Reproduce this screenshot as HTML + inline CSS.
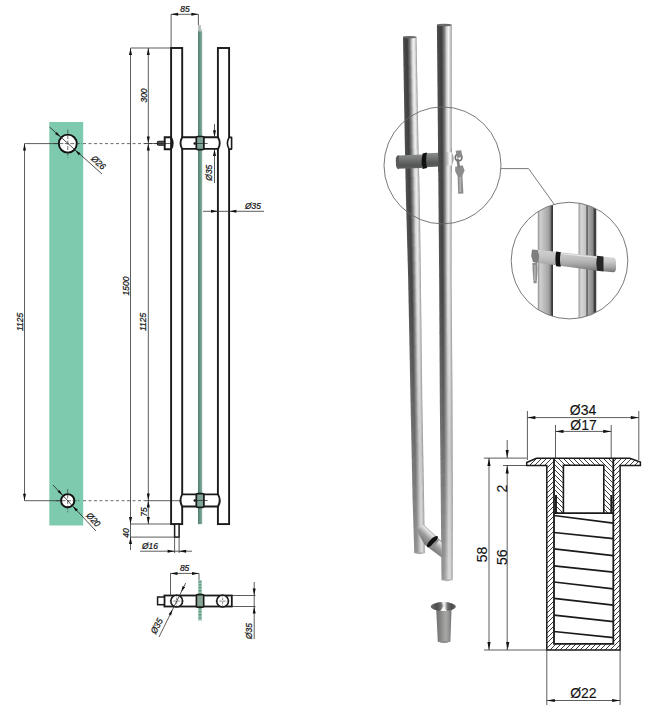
<!DOCTYPE html>
<html><head><meta charset="utf-8"><style>
html,body{margin:0;padding:0;background:#fff;width:649px;height:724px;overflow:hidden}
svg{display:block}
text{font-family:"Liberation Sans",sans-serif}
</style></head><body>
<svg width="649" height="724" viewBox="0 0 649 724">
<rect width="649" height="724" fill="#fff"/>
<rect x="49.3" y="122" width="33.9" height="403.5" fill="#7ecaae"/>
<line x1="83.00" y1="143.60" x2="157.00" y2="143.60" stroke="#444" stroke-width="0.8" stroke-dasharray="3,2.5"/>
<line x1="83.00" y1="500.70" x2="145.00" y2="500.70" stroke="#444" stroke-width="0.8" stroke-dasharray="3,2.5"/>
<line x1="145.00" y1="500.70" x2="182.00" y2="500.70" stroke="#333" stroke-width="0.8" />
<line x1="24.50" y1="143.60" x2="24.50" y2="500.70" stroke="#333" stroke-width="0.8" />
<line x1="24.50" y1="143.60" x2="67.80" y2="143.60" stroke="#333" stroke-width="0.8" />
<line x1="24.50" y1="500.70" x2="67.70" y2="500.70" stroke="#333" stroke-width="0.8" />
<polygon points="24.50,143.60 26.00,150.60 23.00,150.60" fill="#111"/>
<polygon points="24.50,500.70 23.00,493.70 26.00,493.70" fill="#111"/>
<text transform="translate(19.80,322.00) rotate(-90) scale(0.94,1)" x="0" y="3.24" text-anchor="middle" font-size="9.0" fill="#111" stroke="#111" stroke-width="0.22" style="font-style:italic;">1125</text>
<circle cx="67.8" cy="143.6" r="9.0" fill="#fff" stroke="#111" stroke-width="1.9"/>
<line x1="67.80" y1="129.60" x2="67.80" y2="157.60" stroke="#333" stroke-width="0.7" stroke-dasharray="4,1.5"/>
<line x1="53.80" y1="143.60" x2="81.80" y2="143.60" stroke="#333" stroke-width="0.7" stroke-dasharray="4,1.5"/>
<line x1="49.50" y1="127.00" x2="102.00" y2="174.00" stroke="#222" stroke-width="0.8" />
<polygon points="60.42,137.00 55.02,134.04 56.89,131.95" fill="#111"/>
<polygon points="75.18,150.20 80.58,153.16 78.71,155.25" fill="#111"/>
<text transform="translate(98.50,162.50) rotate(42) scale(0.94,1)" x="0" y="3.24" text-anchor="middle" font-size="9.0" fill="#111" stroke="#111" stroke-width="0.22" style="font-style:italic;">&#216;26</text>
<circle cx="67.7" cy="500.7" r="6.6" fill="#fff" stroke="#111" stroke-width="1.9"/>
<line x1="67.70" y1="489.10" x2="67.70" y2="512.30" stroke="#333" stroke-width="0.7" stroke-dasharray="4,1.5"/>
<line x1="56.10" y1="500.70" x2="79.30" y2="500.70" stroke="#333" stroke-width="0.7" stroke-dasharray="4,1.5"/>
<line x1="53.00" y1="485.00" x2="96.00" y2="531.00" stroke="#222" stroke-width="0.8" />
<polygon points="62.58,495.22 57.46,491.79 59.50,489.88" fill="#111"/>
<polygon points="72.82,506.18 77.94,509.61 75.90,511.52" fill="#111"/>
<text transform="translate(93.50,519.50) rotate(47) scale(0.94,1)" x="0" y="3.24" text-anchor="middle" font-size="9.0" fill="#111" stroke="#111" stroke-width="0.22" style="font-style:italic;">&#216;20</text>
<line x1="130.50" y1="48.00" x2="130.50" y2="550.00" stroke="#333" stroke-width="0.8" />
<line x1="148.30" y1="48.00" x2="148.30" y2="524.00" stroke="#333" stroke-width="0.8" />
<line x1="130.50" y1="48.00" x2="171.00" y2="48.00" stroke="#333" stroke-width="0.8" />
<line x1="130.50" y1="524.00" x2="171.00" y2="524.00" stroke="#333" stroke-width="0.8" />
<line x1="130.50" y1="537.10" x2="174.50" y2="537.10" stroke="#333" stroke-width="0.8" />
<polygon points="130.50,48.00 132.00,55.00 129.00,55.00" fill="#111"/>
<polygon points="130.50,524.00 129.00,517.00 132.00,517.00" fill="#111"/>
<polygon points="130.50,537.10 132.00,544.10 129.00,544.10" fill="#111"/>
<polygon points="148.30,48.00 149.80,55.00 146.80,55.00" fill="#111"/>
<polygon points="148.30,143.50 146.80,136.50 149.80,136.50" fill="#111"/>
<polygon points="148.30,143.50 149.80,150.50 146.80,150.50" fill="#111"/>
<polygon points="148.30,500.60 146.80,493.60 149.80,493.60" fill="#111"/>
<polygon points="148.30,500.60 149.80,507.60 146.80,507.60" fill="#111"/>
<polygon points="148.30,524.00 146.80,517.00 149.80,517.00" fill="#111"/>
<text transform="translate(143.50,95.50) rotate(-90) scale(0.94,1)" x="0" y="3.24" text-anchor="middle" font-size="9.0" fill="#111" stroke="#111" stroke-width="0.22" style="font-style:italic;">300</text>
<text transform="translate(125.90,286.00) rotate(-90) scale(0.94,1)" x="0" y="3.24" text-anchor="middle" font-size="9.0" fill="#111" stroke="#111" stroke-width="0.22" style="font-style:italic;">1500</text>
<text transform="translate(143.20,322.00) rotate(-90) scale(0.94,1)" x="0" y="3.24" text-anchor="middle" font-size="9.0" fill="#111" stroke="#111" stroke-width="0.22" style="font-style:italic;">1125</text>
<text transform="translate(143.50,512.00) rotate(-90) scale(0.94,1)" x="0" y="3.24" text-anchor="middle" font-size="9.0" fill="#111" stroke="#111" stroke-width="0.22" style="font-style:italic;">75</text>
<text transform="translate(126.20,533.00) rotate(-90) scale(0.94,1)" x="0" y="3.24" text-anchor="middle" font-size="9.0" fill="#111" stroke="#111" stroke-width="0.22" style="font-style:italic;">40</text>
<line x1="171.10" y1="14.30" x2="171.10" y2="48.00" stroke="#333" stroke-width="0.8" />
<line x1="198.40" y1="14.30" x2="198.40" y2="25.00" stroke="#333" stroke-width="0.8" />
<line x1="171.10" y1="14.30" x2="198.40" y2="14.30" stroke="#333" stroke-width="0.8" />
<polygon points="171.10,14.30 178.10,12.80 178.10,15.80" fill="#111"/>
<polygon points="198.40,14.30 191.40,15.80 191.40,12.80" fill="#111"/>
<text transform="translate(185.00,9.00) rotate(0) scale(0.94,1)" x="0" y="3.24" text-anchor="middle" font-size="9.0" fill="#111" stroke="#111" stroke-width="0.22" style="font-style:italic;">85</text>
<rect x="171.1" y="48" width="11.1" height="476.1" fill="none" stroke="#1a1a1a" stroke-width="1.9"/>
<rect x="217.9" y="48" width="11.2" height="476.1" fill="none" stroke="#1a1a1a" stroke-width="1.9"/>
<rect x="198.1" y="25" width="2.8" height="7" fill="#b4bcb8"/>
<rect x="200.9" y="29" width="1.2" height="3" fill="#c8d0cc"/>
<rect x="198.1" y="31.5" width="4" height="492.6" fill="#6c9a89"/>
<rect x="198.1" y="31.5" width="1.2" height="492.6" fill="#4f7f6e"/>
<rect x="201.3" y="31.5" width="0.8" height="492.6" fill="#88b2a2"/>
<rect x="180" y="137.3" width="40" height="11.599999999999994" fill="#fff"/>
<path d="M182.2,137.3 L218,137.3 Q221.5,143.5 218,148.9 L182.2,148.9 Q178.8,143.5 182.2,137.3 Z" fill="#fff" stroke="#1a1a1a" stroke-width="1.9"/>
<rect x="198.1" y="137.3" width="4" height="11.599999999999994" fill="#6c9a89"/>
<rect x="196.3" y="136.5" width="7.6" height="13.199999999999994" rx="1.5" fill="#7ea595" stroke="#1a1a1a" stroke-width="1.7"/>
<circle cx="194.8" cy="143.5" r="1.3" fill="#111"/>
<line x1="194.80" y1="143.50" x2="207.70" y2="143.50" stroke="#222" stroke-width="0.7" />
<rect x="180" y="494.4" width="40" height="12.100000000000023" fill="#fff"/>
<path d="M182.2,494.4 L218,494.4 Q221.5,500.5 218,506.5 L182.2,506.5 Q178.8,500.5 182.2,494.4 Z" fill="#fff" stroke="#1a1a1a" stroke-width="1.9"/>
<rect x="198.1" y="494.4" width="4" height="12.100000000000023" fill="#6c9a89"/>
<rect x="196.3" y="493.59999999999997" width="7.6" height="13.700000000000022" rx="1.5" fill="#7ea595" stroke="#1a1a1a" stroke-width="1.7"/>
<circle cx="194.8" cy="500.5" r="1.3" fill="#111"/>
<line x1="194.80" y1="500.50" x2="207.70" y2="500.50" stroke="#222" stroke-width="0.7" />
<rect x="227.8" y="138.2" width="2.6" height="10.2" fill="#fff"/>
<path d="M229.1,137.4 L231.6,137.4 L231.6,149.1 L229.1,149.1 Q225.6,143.3 229.1,137.4 Z" fill="#fff" stroke="#1a1a1a" stroke-width="1.6" stroke-linejoin="round"/>
<path d="M171,137.3 L164.7,137.3 L164.7,149.3 L171,149.3 Q174.5,143.5 171,137.3 Z" fill="none" stroke="#1a1a1a" stroke-width="1.9"/>
<path d="M164.7,141.2 L158.8,141.2 Q157.3,141.2 157.3,142.7 L157.3,143.8 Q157.3,145.3 158.8,145.3 L164.7,145.3 Z" fill="#555" stroke="#1a1a1a" stroke-width="1.1"/>
<line x1="144.60" y1="143.50" x2="171.00" y2="143.50" stroke="#222" stroke-width="0.7" />
<rect x="174.6" y="524.1" width="4.5" height="13" fill="#fff" stroke="#1a1a1a" stroke-width="1.5"/>
<line x1="214.50" y1="124.00" x2="214.50" y2="137.30" stroke="#333" stroke-width="0.8" />
<line x1="214.50" y1="148.90" x2="214.50" y2="183.00" stroke="#333" stroke-width="0.8" />
<polygon points="214.50,137.30 213.00,130.30 216.00,130.30" fill="#111"/>
<polygon points="214.50,148.90 216.00,155.90 213.00,155.90" fill="#111"/>
<text transform="translate(209.00,172.70) rotate(-90) scale(0.94,1)" x="0" y="3.24" text-anchor="middle" font-size="9.0" fill="#111" stroke="#111" stroke-width="0.22" style="font-style:italic;">&#216;35</text>
<line x1="203.00" y1="211.30" x2="264.00" y2="211.30" stroke="#333" stroke-width="0.8" />
<polygon points="218.00,211.30 211.00,212.80 211.00,209.80" fill="#111"/>
<polygon points="229.40,211.30 236.40,209.80 236.40,212.80" fill="#111"/>
<text transform="translate(253.00,206.00) rotate(0) scale(0.94,1)" x="0" y="3.24" text-anchor="middle" font-size="9.0" fill="#111" stroke="#111" stroke-width="0.22" style="font-style:italic;">&#216;35</text>
<line x1="174.60" y1="537.00" x2="174.60" y2="553.00" stroke="#333" stroke-width="0.8" />
<line x1="179.10" y1="537.00" x2="179.10" y2="553.00" stroke="#333" stroke-width="0.8" />
<line x1="140.00" y1="551.20" x2="192.00" y2="551.20" stroke="#333" stroke-width="0.8" />
<polygon points="174.60,551.20 167.60,552.70 167.60,549.70" fill="#111"/>
<polygon points="179.10,551.20 186.10,549.70 186.10,552.70" fill="#111"/>
<text transform="translate(150.00,545.30) rotate(0) scale(0.94,1)" x="0" y="3.24" text-anchor="middle" font-size="9.0" fill="#111" stroke="#111" stroke-width="0.22" style="font-style:italic;">&#216;16</text>
<rect x="198.1" y="580.2" width="3.8" height="40.4" fill="#9ac6b2"/>
<rect x="199" y="581" width="2" height="1.5" fill="#5f927d"/>
<rect x="199" y="584" width="2" height="1.5" fill="#5f927d"/>
<rect x="199" y="587" width="2" height="1.5" fill="#5f927d"/>
<rect x="199" y="590" width="2" height="1.5" fill="#5f927d"/>
<rect x="199" y="593" width="2" height="1.5" fill="#5f927d"/>
<rect x="199" y="596" width="2" height="1.5" fill="#5f927d"/>
<rect x="199" y="599" width="2" height="1.5" fill="#5f927d"/>
<rect x="199" y="602" width="2" height="1.5" fill="#5f927d"/>
<rect x="199" y="605" width="2" height="1.5" fill="#5f927d"/>
<rect x="199" y="608" width="2" height="1.5" fill="#5f927d"/>
<rect x="199" y="611" width="2" height="1.5" fill="#5f927d"/>
<rect x="199" y="614" width="2" height="1.5" fill="#5f927d"/>
<rect x="199" y="617" width="2" height="1.5" fill="#5f927d"/>
<rect x="164.4" y="595.5" width="67.4" height="11" fill="#fff" stroke="#1a1a1a" stroke-width="1.8"/>
<rect x="157.6" y="597" width="6.8" height="7.7" fill="#fff" stroke="#1a1a1a" stroke-width="1.5"/>
<rect x="196.4" y="594.6" width="7.3" height="12.5" rx="1.2" fill="#86a596" stroke="#1a1a1a" stroke-width="1.6"/>
<circle cx="176.7" cy="601.1" r="5.9" fill="#fff" stroke="#1a1a1a" stroke-width="1.6"/>
<line x1="176.70" y1="594.00" x2="176.70" y2="608.00" stroke="#333" stroke-width="0.6" stroke-dasharray="2.5,1.2"/>
<line x1="169.70" y1="601.10" x2="183.70" y2="601.10" stroke="#333" stroke-width="0.6" stroke-dasharray="2.5,1.2"/>
<circle cx="222.6" cy="601.1" r="5.9" fill="#fff" stroke="#1a1a1a" stroke-width="1.6"/>
<line x1="222.60" y1="594.00" x2="222.60" y2="608.00" stroke="#333" stroke-width="0.6" stroke-dasharray="2.5,1.2"/>
<line x1="215.60" y1="601.10" x2="229.60" y2="601.10" stroke="#333" stroke-width="0.6" stroke-dasharray="2.5,1.2"/>
<line x1="170.50" y1="573.40" x2="170.50" y2="595.50" stroke="#333" stroke-width="0.8" />
<line x1="199.00" y1="573.40" x2="199.00" y2="580.00" stroke="#333" stroke-width="0.8" />
<line x1="170.50" y1="573.40" x2="199.00" y2="573.40" stroke="#333" stroke-width="0.8" />
<polygon points="170.50,573.40 177.50,571.90 177.50,574.90" fill="#111"/>
<polygon points="199.00,573.40 192.00,574.90 192.00,571.90" fill="#111"/>
<text transform="translate(184.60,568.20) rotate(0) scale(0.94,1)" x="0" y="3.24" text-anchor="middle" font-size="9.0" fill="#111" stroke="#111" stroke-width="0.22" style="font-style:italic;">85</text>
<line x1="185.70" y1="583.00" x2="159.00" y2="637.00" stroke="#333" stroke-width="0.8" />
<polygon points="181.20,592.00 182.58,585.99 185.09,587.22" fill="#111"/>
<polygon points="172.50,609.50 171.12,615.51 168.61,614.28" fill="#111"/>
<text transform="translate(156.50,626.00) rotate(-62) scale(0.94,1)" x="0" y="3.24" text-anchor="middle" font-size="9.0" fill="#111" stroke="#111" stroke-width="0.22" style="font-style:italic;">&#216;35</text>
<line x1="231.80" y1="595.50" x2="255.50" y2="595.50" stroke="#333" stroke-width="0.8" />
<line x1="231.80" y1="606.50" x2="255.50" y2="606.50" stroke="#333" stroke-width="0.8" />
<line x1="254.20" y1="582.00" x2="254.20" y2="639.00" stroke="#333" stroke-width="0.8" />
<polygon points="254.20,595.50 252.70,588.50 255.70,588.50" fill="#111"/>
<polygon points="254.20,606.50 255.70,613.50 252.70,613.50" fill="#111"/>
<text transform="translate(249.00,631.00) rotate(-90) scale(0.94,1)" x="0" y="3.24" text-anchor="middle" font-size="9.0" fill="#111" stroke="#111" stroke-width="0.22" style="font-style:italic;">&#216;35</text>
<linearGradient id="g1" x1="0" x2="1" y1="0" y2="0"><stop offset="0" stop-color="#4e4e4e"/><stop offset="0.3" stop-color="#3c3c3c"/><stop offset="0.5" stop-color="#7b7b7b"/><stop offset="0.65" stop-color="#d0d0d0"/><stop offset="0.78" stop-color="#f5f5f5"/><stop offset="0.9" stop-color="#cecece"/><stop offset="1" stop-color="#8b8b8b"/></linearGradient>
<polygon points="403.00,36.70 416.50,36.70 416.75,51.30 403.24,51.30" fill="url(#g1)"/>
<linearGradient id="g2" x1="0" x2="1" y1="0" y2="0"><stop offset="0" stop-color="#4f4f4f"/><stop offset="0.3" stop-color="#3d3d3d"/><stop offset="0.5" stop-color="#7c7c7c"/><stop offset="0.65" stop-color="#d1d1d1"/><stop offset="0.78" stop-color="#f5f5f5"/><stop offset="0.9" stop-color="#cecece"/><stop offset="1" stop-color="#8b8b8b"/></linearGradient>
<polygon points="403.24,50.70 416.75,50.70 417.00,65.30 403.48,65.30" fill="url(#g2)"/>
<linearGradient id="g3" x1="0" x2="1" y1="0" y2="0"><stop offset="0" stop-color="#4f4f4f"/><stop offset="0.3" stop-color="#3d3d3d"/><stop offset="0.5" stop-color="#7d7d7d"/><stop offset="0.65" stop-color="#d1d1d1"/><stop offset="0.78" stop-color="#f4f4f4"/><stop offset="0.9" stop-color="#cdcdcd"/><stop offset="1" stop-color="#8c8c8c"/></linearGradient>
<polygon points="403.48,64.70 417.00,64.70 417.25,79.30 403.71,79.30" fill="url(#g3)"/>
<linearGradient id="g4" x1="0" x2="1" y1="0" y2="0"><stop offset="0" stop-color="#4f4f4f"/><stop offset="0.3" stop-color="#3e3e3e"/><stop offset="0.5" stop-color="#7e7e7e"/><stop offset="0.65" stop-color="#d1d1d1"/><stop offset="0.78" stop-color="#f3f3f3"/><stop offset="0.9" stop-color="#cdcdcd"/><stop offset="1" stop-color="#8c8c8c"/></linearGradient>
<polygon points="403.71,78.70 417.25,78.70 417.50,93.30 403.95,93.30" fill="url(#g4)"/>
<linearGradient id="g5" x1="0" x2="1" y1="0" y2="0"><stop offset="0" stop-color="#505050"/><stop offset="0.3" stop-color="#3e3e3e"/><stop offset="0.5" stop-color="#7f7f7f"/><stop offset="0.65" stop-color="#d2d2d2"/><stop offset="0.78" stop-color="#f2f2f2"/><stop offset="0.9" stop-color="#cccccc"/><stop offset="1" stop-color="#8d8d8d"/></linearGradient>
<polygon points="403.95,92.70 417.50,92.70 417.75,107.30 404.19,107.30" fill="url(#g5)"/>
<linearGradient id="g6" x1="0" x2="1" y1="0" y2="0"><stop offset="0" stop-color="#505050"/><stop offset="0.3" stop-color="#3f3f3f"/><stop offset="0.5" stop-color="#808080"/><stop offset="0.65" stop-color="#d2d2d2"/><stop offset="0.78" stop-color="#f2f2f2"/><stop offset="0.9" stop-color="#cccccc"/><stop offset="1" stop-color="#8d8d8d"/></linearGradient>
<polygon points="404.19,106.70 417.75,106.70 418.01,121.30 404.43,121.30" fill="url(#g6)"/>
<linearGradient id="g7" x1="0" x2="1" y1="0" y2="0"><stop offset="0" stop-color="#515151"/><stop offset="0.3" stop-color="#3f3f3f"/><stop offset="0.5" stop-color="#818181"/><stop offset="0.65" stop-color="#d2d2d2"/><stop offset="0.78" stop-color="#f1f1f1"/><stop offset="0.9" stop-color="#cbcbcb"/><stop offset="1" stop-color="#8e8e8e"/></linearGradient>
<polygon points="404.43,120.70 418.01,120.70 418.26,135.30 404.66,135.30" fill="url(#g7)"/>
<linearGradient id="g8" x1="0" x2="1" y1="0" y2="0"><stop offset="0" stop-color="#515151"/><stop offset="0.3" stop-color="#404040"/><stop offset="0.5" stop-color="#828282"/><stop offset="0.65" stop-color="#d2d2d2"/><stop offset="0.78" stop-color="#f0f0f0"/><stop offset="0.9" stop-color="#cacaca"/><stop offset="1" stop-color="#8f8f8f"/></linearGradient>
<polygon points="404.66,134.70 418.26,134.70 418.55,149.30 404.93,149.30" fill="url(#g8)"/>
<linearGradient id="g9" x1="0" x2="1" y1="0" y2="0"><stop offset="0" stop-color="#515151"/><stop offset="0.3" stop-color="#404040"/><stop offset="0.5" stop-color="#838383"/><stop offset="0.65" stop-color="#d3d3d3"/><stop offset="0.78" stop-color="#efefef"/><stop offset="0.9" stop-color="#cacaca"/><stop offset="1" stop-color="#8f8f8f"/></linearGradient>
<polygon points="404.93,148.70 418.55,148.70 418.89,163.30 405.22,163.30" fill="url(#g9)"/>
<linearGradient id="g10" x1="0" x2="1" y1="0" y2="0"><stop offset="0" stop-color="#525252"/><stop offset="0.3" stop-color="#414141"/><stop offset="0.5" stop-color="#848484"/><stop offset="0.65" stop-color="#d3d3d3"/><stop offset="0.78" stop-color="#efefef"/><stop offset="0.9" stop-color="#c9c9c9"/><stop offset="1" stop-color="#909090"/></linearGradient>
<polygon points="405.22,162.70 418.89,162.70 419.24,177.30 405.52,177.30" fill="url(#g10)"/>
<linearGradient id="g11" x1="0" x2="1" y1="0" y2="0"><stop offset="0" stop-color="#525252"/><stop offset="0.3" stop-color="#414141"/><stop offset="0.5" stop-color="#858585"/><stop offset="0.65" stop-color="#d3d3d3"/><stop offset="0.78" stop-color="#eeeeee"/><stop offset="0.9" stop-color="#c9c9c9"/><stop offset="1" stop-color="#909090"/></linearGradient>
<polygon points="405.52,176.70 419.24,176.70 419.58,191.30 405.81,191.30" fill="url(#g11)"/>
<linearGradient id="g12" x1="0" x2="1" y1="0" y2="0"><stop offset="0" stop-color="#525252"/><stop offset="0.3" stop-color="#424242"/><stop offset="0.5" stop-color="#868686"/><stop offset="0.65" stop-color="#d4d4d4"/><stop offset="0.78" stop-color="#ededed"/><stop offset="0.9" stop-color="#c8c8c8"/><stop offset="1" stop-color="#919191"/></linearGradient>
<polygon points="405.81,190.70 419.58,190.70 419.87,205.30 406.14,205.30" fill="url(#g12)"/>
<linearGradient id="g13" x1="0" x2="1" y1="0" y2="0"><stop offset="0" stop-color="#535353"/><stop offset="0.3" stop-color="#424242"/><stop offset="0.5" stop-color="#878787"/><stop offset="0.65" stop-color="#d4d4d4"/><stop offset="0.78" stop-color="#ededed"/><stop offset="0.9" stop-color="#c8c8c8"/><stop offset="1" stop-color="#919191"/></linearGradient>
<polygon points="406.14,204.70 419.87,204.70 420.06,219.30 406.52,219.30" fill="url(#g13)"/>
<linearGradient id="g14" x1="0" x2="1" y1="0" y2="0"><stop offset="0" stop-color="#535353"/><stop offset="0.3" stop-color="#434343"/><stop offset="0.5" stop-color="#898989"/><stop offset="0.65" stop-color="#d4d4d4"/><stop offset="0.78" stop-color="#ececec"/><stop offset="0.9" stop-color="#c7c7c7"/><stop offset="1" stop-color="#929292"/></linearGradient>
<polygon points="406.52,218.70 420.06,218.70 420.25,233.30 406.91,233.30" fill="url(#g14)"/>
<linearGradient id="g15" x1="0" x2="1" y1="0" y2="0"><stop offset="0" stop-color="#535353"/><stop offset="0.3" stop-color="#434343"/><stop offset="0.5" stop-color="#8a8a8a"/><stop offset="0.65" stop-color="#d5d5d5"/><stop offset="0.78" stop-color="#ebebeb"/><stop offset="0.9" stop-color="#c6c6c6"/><stop offset="1" stop-color="#939393"/></linearGradient>
<polygon points="406.91,232.70 420.25,232.70 420.45,247.30 407.29,247.30" fill="url(#g15)"/>
<linearGradient id="g16" x1="0" x2="1" y1="0" y2="0"><stop offset="0" stop-color="#545454"/><stop offset="0.3" stop-color="#434343"/><stop offset="0.5" stop-color="#8b8b8b"/><stop offset="0.65" stop-color="#d5d5d5"/><stop offset="0.78" stop-color="#eaeaea"/><stop offset="0.9" stop-color="#c6c6c6"/><stop offset="1" stop-color="#939393"/></linearGradient>
<polygon points="407.29,246.70 420.45,246.70 420.64,261.30 407.68,261.30" fill="url(#g16)"/>
<linearGradient id="g17" x1="0" x2="1" y1="0" y2="0"><stop offset="0" stop-color="#545454"/><stop offset="0.3" stop-color="#444444"/><stop offset="0.5" stop-color="#8c8c8c"/><stop offset="0.65" stop-color="#d5d5d5"/><stop offset="0.78" stop-color="#eaeaea"/><stop offset="0.9" stop-color="#c5c5c5"/><stop offset="1" stop-color="#949494"/></linearGradient>
<polygon points="407.68,260.70 420.64,260.70 420.83,275.30 408.06,275.30" fill="url(#g17)"/>
<linearGradient id="g18" x1="0" x2="1" y1="0" y2="0"><stop offset="0" stop-color="#555555"/><stop offset="0.3" stop-color="#444444"/><stop offset="0.5" stop-color="#8d8d8d"/><stop offset="0.65" stop-color="#d6d6d6"/><stop offset="0.78" stop-color="#e9e9e9"/><stop offset="0.9" stop-color="#c5c5c5"/><stop offset="1" stop-color="#949494"/></linearGradient>
<polygon points="408.06,274.70 420.83,274.70 421.00,289.30 408.37,289.30" fill="url(#g18)"/>
<linearGradient id="g19" x1="0" x2="1" y1="0" y2="0"><stop offset="0" stop-color="#555555"/><stop offset="0.3" stop-color="#454545"/><stop offset="0.5" stop-color="#8e8e8e"/><stop offset="0.65" stop-color="#d6d6d6"/><stop offset="0.78" stop-color="#e8e8e8"/><stop offset="0.9" stop-color="#c4c4c4"/><stop offset="1" stop-color="#959595"/></linearGradient>
<polygon points="408.37,288.70 421.00,288.70 421.17,303.30 408.64,303.30" fill="url(#g19)"/>
<linearGradient id="g20" x1="0" x2="1" y1="0" y2="0"><stop offset="0" stop-color="#575757"/><stop offset="0.3" stop-color="#484848"/><stop offset="0.5" stop-color="#8f8f8f"/><stop offset="0.65" stop-color="#d5d5d5"/><stop offset="0.78" stop-color="#e6e6e6"/><stop offset="0.9" stop-color="#c3c3c3"/><stop offset="1" stop-color="#959595"/></linearGradient>
<polygon points="408.64,302.70 421.17,302.70 421.33,317.30 408.91,317.30" fill="url(#g20)"/>
<linearGradient id="g21" x1="0" x2="1" y1="0" y2="0"><stop offset="0" stop-color="#5b5b5b"/><stop offset="0.3" stop-color="#4b4b4b"/><stop offset="0.5" stop-color="#909090"/><stop offset="0.65" stop-color="#d4d4d4"/><stop offset="0.78" stop-color="#e4e4e4"/><stop offset="0.9" stop-color="#c1c1c1"/><stop offset="1" stop-color="#959595"/></linearGradient>
<polygon points="408.91,316.70 421.33,316.70 421.50,331.30 409.18,331.30" fill="url(#g21)"/>
<linearGradient id="g22" x1="0" x2="1" y1="0" y2="0"><stop offset="0" stop-color="#5e5e5e"/><stop offset="0.3" stop-color="#4f4f4f"/><stop offset="0.5" stop-color="#929292"/><stop offset="0.65" stop-color="#d2d2d2"/><stop offset="0.78" stop-color="#e1e1e1"/><stop offset="0.9" stop-color="#c0c0c0"/><stop offset="1" stop-color="#949494"/></linearGradient>
<polygon points="409.18,330.70 421.50,330.70 421.66,345.30 409.45,345.30" fill="url(#g22)"/>
<linearGradient id="g23" x1="0" x2="1" y1="0" y2="0"><stop offset="0" stop-color="#626262"/><stop offset="0.3" stop-color="#535353"/><stop offset="0.5" stop-color="#939393"/><stop offset="0.65" stop-color="#d1d1d1"/><stop offset="0.78" stop-color="#dfdfdf"/><stop offset="0.9" stop-color="#bebebe"/><stop offset="1" stop-color="#949494"/></linearGradient>
<polygon points="409.45,344.70 421.66,344.70 421.82,359.30 409.71,359.30" fill="url(#g23)"/>
<linearGradient id="g24" x1="0" x2="1" y1="0" y2="0"><stop offset="0" stop-color="#656565"/><stop offset="0.3" stop-color="#565656"/><stop offset="0.5" stop-color="#949494"/><stop offset="0.65" stop-color="#d0d0d0"/><stop offset="0.78" stop-color="#dcdcdc"/><stop offset="0.9" stop-color="#bdbdbd"/><stop offset="1" stop-color="#949494"/></linearGradient>
<polygon points="409.71,358.70 421.82,358.70 421.99,373.30 409.98,373.30" fill="url(#g24)"/>
<linearGradient id="g25" x1="0" x2="1" y1="0" y2="0"><stop offset="0" stop-color="#696969"/><stop offset="0.3" stop-color="#5a5a5a"/><stop offset="0.5" stop-color="#959595"/><stop offset="0.65" stop-color="#cfcfcf"/><stop offset="0.78" stop-color="#dadada"/><stop offset="0.9" stop-color="#bbbbbb"/><stop offset="1" stop-color="#949494"/></linearGradient>
<polygon points="409.98,372.70 421.99,372.70 422.15,387.30 410.25,387.30" fill="url(#g25)"/>
<linearGradient id="g26" x1="0" x2="1" y1="0" y2="0"><stop offset="0" stop-color="#6c6c6c"/><stop offset="0.3" stop-color="#5d5d5d"/><stop offset="0.5" stop-color="#979797"/><stop offset="0.65" stop-color="#cdcdcd"/><stop offset="0.78" stop-color="#d7d7d7"/><stop offset="0.9" stop-color="#bababa"/><stop offset="1" stop-color="#949494"/></linearGradient>
<polygon points="410.25,386.70 422.15,386.70 422.32,401.30 410.52,401.30" fill="url(#g26)"/>
<linearGradient id="g27" x1="0" x2="1" y1="0" y2="0"><stop offset="0" stop-color="#707070"/><stop offset="0.3" stop-color="#616161"/><stop offset="0.5" stop-color="#989898"/><stop offset="0.65" stop-color="#cccccc"/><stop offset="0.78" stop-color="#d5d5d5"/><stop offset="0.9" stop-color="#b8b8b8"/><stop offset="1" stop-color="#949494"/></linearGradient>
<polygon points="410.52,400.70 422.32,400.70 422.57,415.30 410.81,415.30" fill="url(#g27)"/>
<linearGradient id="g28" x1="0" x2="1" y1="0" y2="0"><stop offset="0" stop-color="#737373"/><stop offset="0.3" stop-color="#656565"/><stop offset="0.5" stop-color="#999999"/><stop offset="0.65" stop-color="#cbcbcb"/><stop offset="0.78" stop-color="#d2d2d2"/><stop offset="0.9" stop-color="#b7b7b7"/><stop offset="1" stop-color="#939393"/></linearGradient>
<polygon points="410.81,414.70 422.57,414.70 422.82,429.30 411.11,429.30" fill="url(#g28)"/>
<linearGradient id="g29" x1="0" x2="1" y1="0" y2="0"><stop offset="0" stop-color="#777777"/><stop offset="0.3" stop-color="#686868"/><stop offset="0.5" stop-color="#9b9b9b"/><stop offset="0.65" stop-color="#c9c9c9"/><stop offset="0.78" stop-color="#d0d0d0"/><stop offset="0.9" stop-color="#b5b5b5"/><stop offset="1" stop-color="#939393"/></linearGradient>
<polygon points="411.11,428.70 422.82,428.70 423.07,443.30 411.40,443.30" fill="url(#g29)"/>
<linearGradient id="g30" x1="0" x2="1" y1="0" y2="0"><stop offset="0" stop-color="#7a7a7a"/><stop offset="0.3" stop-color="#6c6c6c"/><stop offset="0.5" stop-color="#9c9c9c"/><stop offset="0.65" stop-color="#c8c8c8"/><stop offset="0.78" stop-color="#cdcdcd"/><stop offset="0.9" stop-color="#b4b4b4"/><stop offset="1" stop-color="#939393"/></linearGradient>
<polygon points="411.40,442.70 423.07,442.70 423.33,457.30 411.70,457.30" fill="url(#g30)"/>
<linearGradient id="g31" x1="0" x2="1" y1="0" y2="0"><stop offset="0" stop-color="#7c7c7c"/><stop offset="0.3" stop-color="#727272"/><stop offset="0.5" stop-color="#a0a0a0"/><stop offset="0.65" stop-color="#cacaca"/><stop offset="0.78" stop-color="#cecece"/><stop offset="0.9" stop-color="#b5b5b5"/><stop offset="1" stop-color="#939393"/></linearGradient>
<polygon points="411.70,456.70 423.33,456.70 423.58,471.30 411.99,471.30" fill="url(#g31)"/>
<linearGradient id="g32" x1="0" x2="1" y1="0" y2="0"><stop offset="0" stop-color="#7e7e7e"/><stop offset="0.3" stop-color="#787878"/><stop offset="0.5" stop-color="#a4a4a4"/><stop offset="0.65" stop-color="#cccccc"/><stop offset="0.78" stop-color="#cfcfcf"/><stop offset="0.9" stop-color="#b6b6b6"/><stop offset="1" stop-color="#929292"/></linearGradient>
<polygon points="411.99,470.70 423.58,470.70 423.83,485.30 412.29,485.30" fill="url(#g32)"/>
<linearGradient id="g33" x1="0" x2="1" y1="0" y2="0"><stop offset="0" stop-color="#808080"/><stop offset="0.3" stop-color="#7d7d7d"/><stop offset="0.5" stop-color="#a8a8a8"/><stop offset="0.65" stop-color="#cecece"/><stop offset="0.78" stop-color="#d1d1d1"/><stop offset="0.9" stop-color="#b7b7b7"/><stop offset="1" stop-color="#929292"/></linearGradient>
<polygon points="412.29,484.70 423.83,484.70 424.08,499.30 412.58,499.30" fill="url(#g33)"/>
<linearGradient id="g34" x1="0" x2="1" y1="0" y2="0"><stop offset="0" stop-color="#838383"/><stop offset="0.3" stop-color="#838383"/><stop offset="0.5" stop-color="#acacac"/><stop offset="0.65" stop-color="#d0d0d0"/><stop offset="0.78" stop-color="#d2d2d2"/><stop offset="0.9" stop-color="#b7b7b7"/><stop offset="1" stop-color="#929292"/></linearGradient>
<polygon points="412.58,498.70 424.08,498.70 424.27,513.30 413.02,513.30" fill="url(#g34)"/>
<linearGradient id="g35" x1="0" x2="1" y1="0" y2="0"><stop offset="0" stop-color="#858585"/><stop offset="0.3" stop-color="#898989"/><stop offset="0.5" stop-color="#b0b0b0"/><stop offset="0.65" stop-color="#d2d2d2"/><stop offset="0.78" stop-color="#d3d3d3"/><stop offset="0.9" stop-color="#b8b8b8"/><stop offset="1" stop-color="#919191"/></linearGradient>
<polygon points="413.02,512.70 424.27,512.70 424.46,527.30 413.47,527.30" fill="url(#g35)"/>
<linearGradient id="g36" x1="0" x2="1" y1="0" y2="0"><stop offset="0" stop-color="#878787"/><stop offset="0.3" stop-color="#8f8f8f"/><stop offset="0.5" stop-color="#b5b5b5"/><stop offset="0.65" stop-color="#d4d4d4"/><stop offset="0.78" stop-color="#d4d4d4"/><stop offset="0.9" stop-color="#b9b9b9"/><stop offset="1" stop-color="#919191"/></linearGradient>
<polygon points="413.47,526.70 424.46,526.70 424.64,541.30 413.92,541.30" fill="url(#g36)"/>
<linearGradient id="g37" x1="0" x2="1" y1="0" y2="0"><stop offset="0" stop-color="#898989"/><stop offset="0.3" stop-color="#949494"/><stop offset="0.5" stop-color="#b8b8b8"/><stop offset="0.65" stop-color="#d5d5d5"/><stop offset="0.78" stop-color="#d5d5d5"/><stop offset="0.9" stop-color="#bababa"/><stop offset="1" stop-color="#919191"/></linearGradient>
<polygon points="413.92,540.70 424.64,540.70 424.80,553.30 414.30,553.30" fill="url(#g37)"/>
<linearGradient id="g38" x1="0" x2="1" y1="0" y2="0"><stop offset="0" stop-color="#4e4e4e"/><stop offset="0.3" stop-color="#3c3c3c"/><stop offset="0.5" stop-color="#7a7a7a"/><stop offset="0.65" stop-color="#d0d0d0"/><stop offset="0.78" stop-color="#f6f6f6"/><stop offset="0.9" stop-color="#cfcfcf"/><stop offset="1" stop-color="#8a8a8a"/></linearGradient>
<polygon points="436.90,24.70 451.70,24.70 451.70,39.30 437.03,39.30" fill="url(#g38)"/>
<linearGradient id="g39" x1="0" x2="1" y1="0" y2="0"><stop offset="0" stop-color="#4e4e4e"/><stop offset="0.3" stop-color="#3d3d3d"/><stop offset="0.5" stop-color="#7b7b7b"/><stop offset="0.65" stop-color="#d0d0d0"/><stop offset="0.78" stop-color="#f5f5f5"/><stop offset="0.9" stop-color="#cecece"/><stop offset="1" stop-color="#8b8b8b"/></linearGradient>
<polygon points="437.03,38.70 451.70,38.70 451.70,53.30 437.16,53.30" fill="url(#g39)"/>
<linearGradient id="g40" x1="0" x2="1" y1="0" y2="0"><stop offset="0" stop-color="#4f4f4f"/><stop offset="0.3" stop-color="#3d3d3d"/><stop offset="0.5" stop-color="#7c7c7c"/><stop offset="0.65" stop-color="#d1d1d1"/><stop offset="0.78" stop-color="#f4f4f4"/><stop offset="0.9" stop-color="#cecece"/><stop offset="1" stop-color="#8b8b8b"/></linearGradient>
<polygon points="437.16,52.70 451.70,52.70 451.70,67.30 437.29,67.30" fill="url(#g40)"/>
<linearGradient id="g41" x1="0" x2="1" y1="0" y2="0"><stop offset="0" stop-color="#4f4f4f"/><stop offset="0.3" stop-color="#3d3d3d"/><stop offset="0.5" stop-color="#7d7d7d"/><stop offset="0.65" stop-color="#d1d1d1"/><stop offset="0.78" stop-color="#f4f4f4"/><stop offset="0.9" stop-color="#cdcdcd"/><stop offset="1" stop-color="#8c8c8c"/></linearGradient>
<polygon points="437.29,66.70 451.70,66.70 451.70,81.30 437.42,81.30" fill="url(#g41)"/>
<linearGradient id="g42" x1="0" x2="1" y1="0" y2="0"><stop offset="0" stop-color="#505050"/><stop offset="0.3" stop-color="#3e3e3e"/><stop offset="0.5" stop-color="#7e7e7e"/><stop offset="0.65" stop-color="#d1d1d1"/><stop offset="0.78" stop-color="#f3f3f3"/><stop offset="0.9" stop-color="#cdcdcd"/><stop offset="1" stop-color="#8c8c8c"/></linearGradient>
<polygon points="437.42,80.70 451.70,80.70 451.70,95.30 437.55,95.30" fill="url(#g42)"/>
<linearGradient id="g43" x1="0" x2="1" y1="0" y2="0"><stop offset="0" stop-color="#505050"/><stop offset="0.3" stop-color="#3e3e3e"/><stop offset="0.5" stop-color="#7f7f7f"/><stop offset="0.65" stop-color="#d2d2d2"/><stop offset="0.78" stop-color="#f2f2f2"/><stop offset="0.9" stop-color="#cccccc"/><stop offset="1" stop-color="#8d8d8d"/></linearGradient>
<polygon points="437.55,94.70 451.70,94.70 451.70,109.30 437.68,109.30" fill="url(#g43)"/>
<linearGradient id="g44" x1="0" x2="1" y1="0" y2="0"><stop offset="0" stop-color="#505050"/><stop offset="0.3" stop-color="#3f3f3f"/><stop offset="0.5" stop-color="#808080"/><stop offset="0.65" stop-color="#d2d2d2"/><stop offset="0.78" stop-color="#f2f2f2"/><stop offset="0.9" stop-color="#cbcbcb"/><stop offset="1" stop-color="#8e8e8e"/></linearGradient>
<polygon points="437.68,108.70 451.70,108.70 451.70,123.30 437.81,123.30" fill="url(#g44)"/>
<linearGradient id="g45" x1="0" x2="1" y1="0" y2="0"><stop offset="0" stop-color="#515151"/><stop offset="0.3" stop-color="#3f3f3f"/><stop offset="0.5" stop-color="#818181"/><stop offset="0.65" stop-color="#d2d2d2"/><stop offset="0.78" stop-color="#f1f1f1"/><stop offset="0.9" stop-color="#cbcbcb"/><stop offset="1" stop-color="#8e8e8e"/></linearGradient>
<polygon points="437.81,122.70 451.70,122.70 451.70,137.30 437.94,137.30" fill="url(#g45)"/>
<linearGradient id="g46" x1="0" x2="1" y1="0" y2="0"><stop offset="0" stop-color="#515151"/><stop offset="0.3" stop-color="#404040"/><stop offset="0.5" stop-color="#828282"/><stop offset="0.65" stop-color="#d3d3d3"/><stop offset="0.78" stop-color="#f0f0f0"/><stop offset="0.9" stop-color="#cacaca"/><stop offset="1" stop-color="#8f8f8f"/></linearGradient>
<polygon points="437.94,136.70 451.70,136.70 451.69,151.30 438.07,151.30" fill="url(#g46)"/>
<linearGradient id="g47" x1="0" x2="1" y1="0" y2="0"><stop offset="0" stop-color="#515151"/><stop offset="0.3" stop-color="#404040"/><stop offset="0.5" stop-color="#838383"/><stop offset="0.65" stop-color="#d3d3d3"/><stop offset="0.78" stop-color="#efefef"/><stop offset="0.9" stop-color="#cacaca"/><stop offset="1" stop-color="#8f8f8f"/></linearGradient>
<polygon points="438.07,150.70 451.69,150.70 451.68,165.30 438.19,165.30" fill="url(#g47)"/>
<linearGradient id="g48" x1="0" x2="1" y1="0" y2="0"><stop offset="0" stop-color="#525252"/><stop offset="0.3" stop-color="#414141"/><stop offset="0.5" stop-color="#858585"/><stop offset="0.65" stop-color="#d3d3d3"/><stop offset="0.78" stop-color="#efefef"/><stop offset="0.9" stop-color="#c9c9c9"/><stop offset="1" stop-color="#909090"/></linearGradient>
<polygon points="438.19,164.70 451.68,164.70 451.67,179.30 438.32,179.30" fill="url(#g48)"/>
<linearGradient id="g49" x1="0" x2="1" y1="0" y2="0"><stop offset="0" stop-color="#525252"/><stop offset="0.3" stop-color="#414141"/><stop offset="0.5" stop-color="#868686"/><stop offset="0.65" stop-color="#d3d3d3"/><stop offset="0.78" stop-color="#eeeeee"/><stop offset="0.9" stop-color="#c9c9c9"/><stop offset="1" stop-color="#909090"/></linearGradient>
<polygon points="438.32,178.70 451.67,178.70 451.66,193.30 438.44,193.30" fill="url(#g49)"/>
<linearGradient id="g50" x1="0" x2="1" y1="0" y2="0"><stop offset="0" stop-color="#525252"/><stop offset="0.3" stop-color="#424242"/><stop offset="0.5" stop-color="#878787"/><stop offset="0.65" stop-color="#d4d4d4"/><stop offset="0.78" stop-color="#ededed"/><stop offset="0.9" stop-color="#c8c8c8"/><stop offset="1" stop-color="#919191"/></linearGradient>
<polygon points="438.44,192.70 451.66,192.70 451.65,207.30 438.56,207.30" fill="url(#g50)"/>
<linearGradient id="g51" x1="0" x2="1" y1="0" y2="0"><stop offset="0" stop-color="#535353"/><stop offset="0.3" stop-color="#424242"/><stop offset="0.5" stop-color="#888888"/><stop offset="0.65" stop-color="#d4d4d4"/><stop offset="0.78" stop-color="#ececec"/><stop offset="0.9" stop-color="#c8c8c8"/><stop offset="1" stop-color="#919191"/></linearGradient>
<polygon points="438.56,206.70 451.65,206.70 451.64,221.30 438.68,221.30" fill="url(#g51)"/>
<linearGradient id="g52" x1="0" x2="1" y1="0" y2="0"><stop offset="0" stop-color="#535353"/><stop offset="0.3" stop-color="#434343"/><stop offset="0.5" stop-color="#898989"/><stop offset="0.65" stop-color="#d4d4d4"/><stop offset="0.78" stop-color="#ececec"/><stop offset="0.9" stop-color="#c7c7c7"/><stop offset="1" stop-color="#929292"/></linearGradient>
<polygon points="438.68,220.70 451.64,220.70 451.63,235.30 438.81,235.30" fill="url(#g52)"/>
<linearGradient id="g53" x1="0" x2="1" y1="0" y2="0"><stop offset="0" stop-color="#535353"/><stop offset="0.3" stop-color="#434343"/><stop offset="0.5" stop-color="#8a8a8a"/><stop offset="0.65" stop-color="#d5d5d5"/><stop offset="0.78" stop-color="#ebebeb"/><stop offset="0.9" stop-color="#c6c6c6"/><stop offset="1" stop-color="#939393"/></linearGradient>
<polygon points="438.81,234.70 451.63,234.70 451.62,249.30 438.93,249.30" fill="url(#g53)"/>
<linearGradient id="g54" x1="0" x2="1" y1="0" y2="0"><stop offset="0" stop-color="#545454"/><stop offset="0.3" stop-color="#444444"/><stop offset="0.5" stop-color="#8b8b8b"/><stop offset="0.65" stop-color="#d5d5d5"/><stop offset="0.78" stop-color="#eaeaea"/><stop offset="0.9" stop-color="#c6c6c6"/><stop offset="1" stop-color="#939393"/></linearGradient>
<polygon points="438.93,248.70 451.62,248.70 451.61,263.30 439.05,263.30" fill="url(#g54)"/>
<linearGradient id="g55" x1="0" x2="1" y1="0" y2="0"><stop offset="0" stop-color="#545454"/><stop offset="0.3" stop-color="#444444"/><stop offset="0.5" stop-color="#8c8c8c"/><stop offset="0.65" stop-color="#d5d5d5"/><stop offset="0.78" stop-color="#eaeaea"/><stop offset="0.9" stop-color="#c5c5c5"/><stop offset="1" stop-color="#949494"/></linearGradient>
<polygon points="439.05,262.70 451.61,262.70 451.60,277.30 439.17,277.30" fill="url(#g55)"/>
<linearGradient id="g56" x1="0" x2="1" y1="0" y2="0"><stop offset="0" stop-color="#555555"/><stop offset="0.3" stop-color="#444444"/><stop offset="0.5" stop-color="#8d8d8d"/><stop offset="0.65" stop-color="#d6d6d6"/><stop offset="0.78" stop-color="#e9e9e9"/><stop offset="0.9" stop-color="#c5c5c5"/><stop offset="1" stop-color="#949494"/></linearGradient>
<polygon points="439.17,276.70 451.60,276.70 451.68,291.30 439.25,291.30" fill="url(#g56)"/>
<linearGradient id="g57" x1="0" x2="1" y1="0" y2="0"><stop offset="0" stop-color="#555555"/><stop offset="0.3" stop-color="#454545"/><stop offset="0.5" stop-color="#8e8e8e"/><stop offset="0.65" stop-color="#d6d6d6"/><stop offset="0.78" stop-color="#e8e8e8"/><stop offset="0.9" stop-color="#c4c4c4"/><stop offset="1" stop-color="#959595"/></linearGradient>
<polygon points="439.25,290.70 451.68,290.70 451.79,305.30 439.32,305.30" fill="url(#g57)"/>
<linearGradient id="g58" x1="0" x2="1" y1="0" y2="0"><stop offset="0" stop-color="#585858"/><stop offset="0.3" stop-color="#484848"/><stop offset="0.5" stop-color="#8f8f8f"/><stop offset="0.65" stop-color="#d5d5d5"/><stop offset="0.78" stop-color="#e6e6e6"/><stop offset="0.9" stop-color="#c3c3c3"/><stop offset="1" stop-color="#959595"/></linearGradient>
<polygon points="439.32,304.70 451.79,304.70 451.89,319.30 439.39,319.30" fill="url(#g58)"/>
<linearGradient id="g59" x1="0" x2="1" y1="0" y2="0"><stop offset="0" stop-color="#5b5b5b"/><stop offset="0.3" stop-color="#4c4c4c"/><stop offset="0.5" stop-color="#909090"/><stop offset="0.65" stop-color="#d4d4d4"/><stop offset="0.78" stop-color="#e3e3e3"/><stop offset="0.9" stop-color="#c1c1c1"/><stop offset="1" stop-color="#959595"/></linearGradient>
<polygon points="439.39,318.70 451.89,318.70 452.00,333.30 439.46,333.30" fill="url(#g59)"/>
<linearGradient id="g60" x1="0" x2="1" y1="0" y2="0"><stop offset="0" stop-color="#5f5f5f"/><stop offset="0.3" stop-color="#4f4f4f"/><stop offset="0.5" stop-color="#929292"/><stop offset="0.65" stop-color="#d2d2d2"/><stop offset="0.78" stop-color="#e1e1e1"/><stop offset="0.9" stop-color="#c0c0c0"/><stop offset="1" stop-color="#949494"/></linearGradient>
<polygon points="439.46,332.70 452.00,332.70 452.10,347.30 439.54,347.30" fill="url(#g60)"/>
<linearGradient id="g61" x1="0" x2="1" y1="0" y2="0"><stop offset="0" stop-color="#626262"/><stop offset="0.3" stop-color="#535353"/><stop offset="0.5" stop-color="#939393"/><stop offset="0.65" stop-color="#d1d1d1"/><stop offset="0.78" stop-color="#dedede"/><stop offset="0.9" stop-color="#bebebe"/><stop offset="1" stop-color="#949494"/></linearGradient>
<polygon points="439.54,346.70 452.10,346.70 452.21,361.30 439.61,361.30" fill="url(#g61)"/>
<linearGradient id="g62" x1="0" x2="1" y1="0" y2="0"><stop offset="0" stop-color="#666666"/><stop offset="0.3" stop-color="#575757"/><stop offset="0.5" stop-color="#949494"/><stop offset="0.65" stop-color="#d0d0d0"/><stop offset="0.78" stop-color="#dcdcdc"/><stop offset="0.9" stop-color="#bdbdbd"/><stop offset="1" stop-color="#949494"/></linearGradient>
<polygon points="439.61,360.70 452.21,360.70 452.31,375.30 439.68,375.30" fill="url(#g62)"/>
<linearGradient id="g63" x1="0" x2="1" y1="0" y2="0"><stop offset="0" stop-color="#696969"/><stop offset="0.3" stop-color="#5a5a5a"/><stop offset="0.5" stop-color="#969696"/><stop offset="0.65" stop-color="#cecece"/><stop offset="0.78" stop-color="#d9d9d9"/><stop offset="0.9" stop-color="#bbbbbb"/><stop offset="1" stop-color="#949494"/></linearGradient>
<polygon points="439.68,374.70 452.31,374.70 452.42,389.30 439.75,389.30" fill="url(#g63)"/>
<linearGradient id="g64" x1="0" x2="1" y1="0" y2="0"><stop offset="0" stop-color="#6d6d6d"/><stop offset="0.3" stop-color="#5e5e5e"/><stop offset="0.5" stop-color="#979797"/><stop offset="0.65" stop-color="#cdcdcd"/><stop offset="0.78" stop-color="#d7d7d7"/><stop offset="0.9" stop-color="#bababa"/><stop offset="1" stop-color="#949494"/></linearGradient>
<polygon points="439.75,388.70 452.42,388.70 452.51,403.30 439.83,403.30" fill="url(#g64)"/>
<linearGradient id="g65" x1="0" x2="1" y1="0" y2="0"><stop offset="0" stop-color="#707070"/><stop offset="0.3" stop-color="#626262"/><stop offset="0.5" stop-color="#989898"/><stop offset="0.65" stop-color="#cccccc"/><stop offset="0.78" stop-color="#d4d4d4"/><stop offset="0.9" stop-color="#b8b8b8"/><stop offset="1" stop-color="#949494"/></linearGradient>
<polygon points="439.83,402.70 452.51,402.70 452.55,417.30 439.97,417.30" fill="url(#g65)"/>
<linearGradient id="g66" x1="0" x2="1" y1="0" y2="0"><stop offset="0" stop-color="#747474"/><stop offset="0.3" stop-color="#656565"/><stop offset="0.5" stop-color="#9a9a9a"/><stop offset="0.65" stop-color="#cacaca"/><stop offset="0.78" stop-color="#d2d2d2"/><stop offset="0.9" stop-color="#b7b7b7"/><stop offset="1" stop-color="#939393"/></linearGradient>
<polygon points="439.97,416.70 452.55,416.70 452.59,431.30 440.11,431.30" fill="url(#g66)"/>
<linearGradient id="g67" x1="0" x2="1" y1="0" y2="0"><stop offset="0" stop-color="#777777"/><stop offset="0.3" stop-color="#696969"/><stop offset="0.5" stop-color="#9b9b9b"/><stop offset="0.65" stop-color="#c9c9c9"/><stop offset="0.78" stop-color="#cfcfcf"/><stop offset="0.9" stop-color="#b5b5b5"/><stop offset="1" stop-color="#939393"/></linearGradient>
<polygon points="440.11,430.70 452.59,430.70 452.63,445.30 440.25,445.30" fill="url(#g67)"/>
<linearGradient id="g68" x1="0" x2="1" y1="0" y2="0"><stop offset="0" stop-color="#7a7a7a"/><stop offset="0.3" stop-color="#6d6d6d"/><stop offset="0.5" stop-color="#9d9d9d"/><stop offset="0.65" stop-color="#c8c8c8"/><stop offset="0.78" stop-color="#cdcdcd"/><stop offset="0.9" stop-color="#b4b4b4"/><stop offset="1" stop-color="#939393"/></linearGradient>
<polygon points="440.25,444.70 452.63,444.70 452.68,459.30 440.39,459.30" fill="url(#g68)"/>
<linearGradient id="g69" x1="0" x2="1" y1="0" y2="0"><stop offset="0" stop-color="#7c7c7c"/><stop offset="0.3" stop-color="#737373"/><stop offset="0.5" stop-color="#a1a1a1"/><stop offset="0.65" stop-color="#cacaca"/><stop offset="0.78" stop-color="#cecece"/><stop offset="0.9" stop-color="#b5b5b5"/><stop offset="1" stop-color="#939393"/></linearGradient>
<polygon points="440.39,458.70 452.68,458.70 452.72,473.30 440.53,473.30" fill="url(#g69)"/>
<linearGradient id="g70" x1="0" x2="1" y1="0" y2="0"><stop offset="0" stop-color="#7f7f7f"/><stop offset="0.3" stop-color="#787878"/><stop offset="0.5" stop-color="#a5a5a5"/><stop offset="0.65" stop-color="#cccccc"/><stop offset="0.78" stop-color="#d0d0d0"/><stop offset="0.9" stop-color="#b6b6b6"/><stop offset="1" stop-color="#929292"/></linearGradient>
<polygon points="440.53,472.70 452.72,472.70 452.76,487.30 440.67,487.30" fill="url(#g70)"/>
<linearGradient id="g71" x1="0" x2="1" y1="0" y2="0"><stop offset="0" stop-color="#818181"/><stop offset="0.3" stop-color="#7e7e7e"/><stop offset="0.5" stop-color="#a9a9a9"/><stop offset="0.65" stop-color="#cecece"/><stop offset="0.78" stop-color="#d1d1d1"/><stop offset="0.9" stop-color="#b7b7b7"/><stop offset="1" stop-color="#929292"/></linearGradient>
<polygon points="440.67,486.70 452.76,486.70 452.80,501.30 440.81,501.30" fill="url(#g71)"/>
<linearGradient id="g72" x1="0" x2="1" y1="0" y2="0"><stop offset="0" stop-color="#838383"/><stop offset="0.3" stop-color="#848484"/><stop offset="0.5" stop-color="#adadad"/><stop offset="0.65" stop-color="#d0d0d0"/><stop offset="0.78" stop-color="#d2d2d2"/><stop offset="0.9" stop-color="#b8b8b8"/><stop offset="1" stop-color="#929292"/></linearGradient>
<polygon points="440.81,500.70 452.80,500.70 452.76,515.30 440.93,515.30" fill="url(#g72)"/>
<linearGradient id="g73" x1="0" x2="1" y1="0" y2="0"><stop offset="0" stop-color="#858585"/><stop offset="0.3" stop-color="#8a8a8a"/><stop offset="0.5" stop-color="#b1b1b1"/><stop offset="0.65" stop-color="#d2d2d2"/><stop offset="0.78" stop-color="#d3d3d3"/><stop offset="0.9" stop-color="#b8b8b8"/><stop offset="1" stop-color="#919191"/></linearGradient>
<polygon points="440.93,514.70 452.76,514.70 452.73,529.30 441.05,529.30" fill="url(#g73)"/>
<linearGradient id="g74" x1="0" x2="1" y1="0" y2="0"><stop offset="0" stop-color="#878787"/><stop offset="0.3" stop-color="#909090"/><stop offset="0.5" stop-color="#b5b5b5"/><stop offset="0.65" stop-color="#d4d4d4"/><stop offset="0.78" stop-color="#d4d4d4"/><stop offset="0.9" stop-color="#b9b9b9"/><stop offset="1" stop-color="#919191"/></linearGradient>
<polygon points="441.05,528.70 452.73,528.70 452.69,543.30 441.18,543.30" fill="url(#g74)"/>
<linearGradient id="g75" x1="0" x2="1" y1="0" y2="0"><stop offset="0" stop-color="#898989"/><stop offset="0.3" stop-color="#969696"/><stop offset="0.5" stop-color="#b9b9b9"/><stop offset="0.65" stop-color="#d6d6d6"/><stop offset="0.78" stop-color="#d5d5d5"/><stop offset="0.9" stop-color="#bababa"/><stop offset="1" stop-color="#919191"/></linearGradient>
<polygon points="441.18,542.70 452.69,542.70 452.66,557.30 441.30,557.30" fill="url(#g75)"/>
<linearGradient id="g76" x1="0" x2="1" y1="0" y2="0"><stop offset="0" stop-color="#8c8c8c"/><stop offset="0.3" stop-color="#9b9b9b"/><stop offset="0.5" stop-color="#bdbdbd"/><stop offset="0.65" stop-color="#d8d8d8"/><stop offset="0.78" stop-color="#d7d7d7"/><stop offset="0.9" stop-color="#bbbbbb"/><stop offset="1" stop-color="#909090"/></linearGradient>
<polygon points="441.30,556.70 452.66,556.70 452.62,571.30 441.42,571.30" fill="url(#g76)"/>
<linearGradient id="g77" x1="0" x2="1" y1="0" y2="0"><stop offset="0" stop-color="#8d8d8d"/><stop offset="0.3" stop-color="#a0a0a0"/><stop offset="0.5" stop-color="#c1c1c1"/><stop offset="0.65" stop-color="#d9d9d9"/><stop offset="0.78" stop-color="#d8d8d8"/><stop offset="0.9" stop-color="#bcbcbc"/><stop offset="1" stop-color="#909090"/></linearGradient>
<polygon points="441.42,570.70 452.62,570.70 452.60,580.30 441.50,580.30" fill="url(#g77)"/>
<ellipse cx="409.7" cy="37.2" rx="6.7" ry="1.3" fill="#6a6a6a"/>
<ellipse cx="444.3" cy="25" rx="7.4" ry="1.3" fill="#6a6a6a"/>
<path d="M414.3,552.5 Q419.5,556 424.8,552.5 Z" fill="#a8a8a8"/>
<path d="M441.5,579.5 Q447,583 452.6,579.5 Z" fill="#b0b0b0"/>
<linearGradient id="gdiag" gradientUnits="userSpaceOnUse" x1="433.2" y1="533.3" x2="424.2" y2="542.6"><stop offset="0" stop-color="#9a9a9a"/><stop offset="0.12" stop-color="#e8e8e8"/><stop offset="0.3" stop-color="#c8c8c8"/><stop offset="0.55" stop-color="#9c9c9c"/><stop offset="0.85" stop-color="#868686"/><stop offset="1" stop-color="#7a7a7a"/></linearGradient>
<polygon points="416.8,530.6 420.6,526.6 423.9,524.8 441.6,541.2 441.6,557.6 424.6,544.8" fill="url(#gdiag)"/>
<ellipse cx="0" cy="0" rx="2.6" ry="7.4" fill="#121212" transform="translate(432.4,541.6) rotate(44.5)"/>
<ellipse cx="0" cy="0" rx="1.2" ry="6.2" fill="#8e8e8e" transform="translate(434.6,543.7) rotate(44.5)"/>
<linearGradient id="g78" x1="0" x2="0" y1="0" y2="1"><stop offset="0" stop-color="#8a8d8c"/><stop offset="0.3" stop-color="#767978"/><stop offset="0.5" stop-color="#656867"/><stop offset="0.65" stop-color="#5a5d5c"/><stop offset="0.78" stop-color="#545756"/><stop offset="0.9" stop-color="#5a5c5b"/><stop offset="1" stop-color="#6c6e6d"/></linearGradient>
<polygon points="397.5,155.6 422,154.4 422,168 397.5,168.8" fill="url(#g78)"/>
<path d="M399,155.2 Q395.5,156 395.8,160 L396,166 Q396.5,169 399,169.4 Z" fill="#5a5c5b"/>
<polygon points="426,153.2 440,152.8 440,166.4 426,167.2" fill="url(#g78)"/>
<path d="M422.6,153.6 Q420.6,161 422.6,169 L427,168 Q425.2,160.5 427,152.6 Z" fill="#111"/>
<linearGradient id="g79" x1="0" x2="1" y1="0" y2="0"><stop offset="0" stop-color="#515151"/><stop offset="0.3" stop-color="#404040"/><stop offset="0.5" stop-color="#838383"/><stop offset="0.65" stop-color="#d3d3d3"/><stop offset="0.78" stop-color="#f0f0f0"/><stop offset="0.9" stop-color="#cacaca"/><stop offset="1" stop-color="#8f8f8f"/></linearGradient>
<polygon points="438.04,147.8 451.70,147.8 451.70,156.2 438.04,156.2" fill="url(#g79)"/>
<linearGradient id="g80" x1="0" x2="1" y1="0" y2="0"><stop offset="0" stop-color="#515151"/><stop offset="0.3" stop-color="#404040"/><stop offset="0.5" stop-color="#848484"/><stop offset="0.65" stop-color="#d3d3d3"/><stop offset="0.78" stop-color="#efefef"/><stop offset="0.9" stop-color="#cacaca"/><stop offset="1" stop-color="#8f8f8f"/></linearGradient>
<polygon points="438.11,155.8 451.69,155.8 451.69,164.2 438.11,164.2" fill="url(#g80)"/>
<linearGradient id="g81" x1="0" x2="1" y1="0" y2="0"><stop offset="0" stop-color="#525252"/><stop offset="0.3" stop-color="#414141"/><stop offset="0.5" stop-color="#848484"/><stop offset="0.65" stop-color="#d3d3d3"/><stop offset="0.78" stop-color="#efefef"/><stop offset="0.9" stop-color="#c9c9c9"/><stop offset="1" stop-color="#909090"/></linearGradient>
<polygon points="438.18,163.8 451.68,163.8 451.68,172.2 438.18,172.2" fill="url(#g81)"/>
<linearGradient id="g82" x1="0" x2="1" y1="0" y2="0"><stop offset="0" stop-color="#8a8a8a"/><stop offset="0.3" stop-color="#c0c0c0"/><stop offset="0.5" stop-color="#ececec"/><stop offset="0.65" stop-color="#f8f8f8"/><stop offset="0.78" stop-color="#d8d8d8"/><stop offset="0.9" stop-color="#a0a0a0"/><stop offset="1" stop-color="#787878"/></linearGradient>
<path d="M446,152.3 Q443.5,159 446,165.5 L452,165.5 Q455,159 452,152.3 Z" fill="url(#g82)"/>
<circle cx="458.6" cy="157.6" r="3.3" fill="none" stroke="#6e6e6e" stroke-width="1.6"/>
<polygon points="455.6,150.8 461.2,150.2 462.6,157 457.2,158" fill="#8a8a8a"/>
<polygon points="455.2,166.8 462.6,165.2 464.6,170.6 462.4,175.6 463.4,193.6 458.2,193.8 457.6,176 455.2,171.6" fill="#8c8c8c"/>
<rect x="459.4" y="177" width="1.8" height="15" fill="#b2b2b2"/>
<polygon points="456.2,159 458.6,158.2 460.2,167 457.6,167.4" fill="#7a7a7a"/>
<circle cx="442.5" cy="165.4" r="58.5" fill="none" stroke="#6a6a6a" stroke-width="0.9"/>
<polyline points="501,168.6 528.5,168.6 554,204" fill="none" stroke="#6a6a6a" stroke-width="0.9"/>
<clipPath id="zc"><circle cx="569.5" cy="260.6" r="58"/></clipPath>
<g clip-path="url(#zc)">
<linearGradient id="g83" x1="0" x2="1" y1="0" y2="0"><stop offset="0" stop-color="#8a8a8a"/><stop offset="0.15" stop-color="#d0d0d0"/><stop offset="0.4" stop-color="#bdbdbd"/><stop offset="0.7" stop-color="#a5a5a5"/><stop offset="0.85" stop-color="#7a7a7a"/><stop offset="0.93" stop-color="#2e2e2e"/><stop offset="1" stop-color="#444444"/></linearGradient>
<rect x="537.8" y="195" width="15.2" height="130" fill="url(#g83)"/>
<linearGradient id="g84" x1="0" x2="1" y1="0" y2="0"><stop offset="0" stop-color="#9a9a9a"/><stop offset="0.15" stop-color="#d8d8d8"/><stop offset="0.4" stop-color="#c4c4c4"/><stop offset="0.48" stop-color="#505050"/><stop offset="0.56" stop-color="#a8a8a8"/><stop offset="0.8" stop-color="#8a8a8a"/><stop offset="0.92" stop-color="#2e2e2e"/><stop offset="1" stop-color="#555555"/></linearGradient>
<rect x="578.5" y="195" width="17.8" height="130" fill="url(#g84)"/>
<linearGradient id="g85" x1="0" x2="0" y1="0" y2="1"><stop offset="0" stop-color="#cfcfcf"/><stop offset="0.3" stop-color="#c6c6c6"/><stop offset="0.5" stop-color="#b8b8b8"/><stop offset="0.65" stop-color="#aaaaaa"/><stop offset="0.78" stop-color="#999999"/><stop offset="0.9" stop-color="#858585"/><stop offset="1" stop-color="#6e6e6e"/></linearGradient>
<polygon points="537,249.8 597,256.2 597,270.8 537,262.8" fill="url(#g85)"/>
<linearGradient id="g86" x1="0" x2="0" y1="0" y2="1"><stop offset="0" stop-color="#d8d8d8"/><stop offset="0.3" stop-color="#cacaca"/><stop offset="0.5" stop-color="#b8b8b8"/><stop offset="0.65" stop-color="#a8a8a8"/><stop offset="0.78" stop-color="#969696"/><stop offset="0.9" stop-color="#848484"/><stop offset="1" stop-color="#6e6e6e"/></linearGradient>
<path d="M603,256.8 L613,257.6 Q616,258 616,262 L616,268 Q616,272.2 613,272.2 L603,271.2 Z" fill="url(#g86)"/>
<path d="M597,255.8 L603.5,256.4 L603.5,271.4 L597,270.8 Q595.5,263 597,255.8 Z" fill="#262626"/>
<path d="M556.2,251.6 L560.8,252.2 Q559.2,259.5 560.8,266.8 L556.2,266.2 Q554.6,259 556.2,251.6 Z" fill="#121212"/>
<line x1="561" y1="253.6" x2="597" y2="257.4" stroke="#e6e6e6" stroke-width="1"/>
<polygon points="532,249.4 537.6,250 539.2,256 538.4,262 536.8,263 533,262 531.2,256" fill="#7e7e7e"/>
<polygon points="532.4,263 537.2,263 537.6,270 536.6,283.2 533.6,283.2 532.6,270" fill="#8c8c8c"/>
<rect x="534.2" y="265" width="1.4" height="16" fill="#b8b8b8"/>
</g>
<circle cx="569.5" cy="260.6" r="58.3" fill="none" stroke="#6a6a6a" stroke-width="0.9"/>
<linearGradient id="g87" x1="0" x2="1" y1="0" y2="0"><stop offset="0" stop-color="#707070"/><stop offset="0.3" stop-color="#888886"/><stop offset="0.5" stop-color="#9e9e9c"/><stop offset="0.65" stop-color="#a6a6a4"/><stop offset="0.78" stop-color="#9a9a98"/><stop offset="0.9" stop-color="#868684"/><stop offset="1" stop-color="#6a6a6a"/></linearGradient>
<polygon points="436.2,609 451.5,609 450.4,642 437.8,642" fill="url(#g87)"/>
<path d="M437.8,641.2 Q444,645 450.4,641.2 Z" fill="#8a8a88"/>
<linearGradient id="g88" x1="0" x2="1" y1="0" y2="0"><stop offset="0" stop-color="#6a6a6a"/><stop offset="0.25" stop-color="#4e4e4e"/><stop offset="0.42" stop-color="#707070"/><stop offset="0.55" stop-color="#eeeeee"/><stop offset="0.68" stop-color="#6a6a6a"/><stop offset="0.85" stop-color="#4a4a4a"/><stop offset="1" stop-color="#6e6e6e"/></linearGradient>
<ellipse cx="443.3" cy="606.6" rx="12.5" ry="4.5" fill="url(#g88)"/>
<polygon points="440.4,611 446.6,611 443.6,606" fill="#f4f4f4"/>
<polygon points="441.5,602.2 445.5,602.2 443.6,606" fill="#e8e8e8"/>
<defs>
<pattern id="hA" patternUnits="userSpaceOnUse" width="5" height="5">
 <path d="M-1,6 L6,-1 M-1,1 L1,-1 M4,6 L6,4" stroke="#1a1a1a" stroke-width="0.85"/>
</pattern>
<pattern id="hB" patternUnits="userSpaceOnUse" width="5" height="5">
 <path d="M-1,-1 L6,6 M-1,4 L1,6 M4,-1 L6,1" stroke="#1a1a1a" stroke-width="0.85"/>
</pattern>
</defs>
<path d="M526.7,462.5 L536.4,458.3 L554,458.3 L554,643.9 L613.3,643.9 L613.3,458.3 L629.8,458.3 L640.4,462 L640.4,465.5 L620.1,465.5 L620.1,650 L546.8,650 L546.8,465.5 L526.7,465.5 Z" fill="url(#hA)"/>
<path d="M554,458.3 L613.3,458.3 L613.3,513.2 L603.8,513.2 L603.8,465.3 L563.4,465.3 L563.4,513.2 L554,513.2 Z" fill="url(#hB)"/>
<path d="M526.7,462.5 L536.4,458.3 L629.8,458.3 L640.4,462 L640.4,465.5 L620.1,465.5 L620.1,650 L546.8,650 L546.8,465.5 L526.7,465.5 Z" fill="none" stroke="#1a1a1a" stroke-width="1.5"/>
<path d="M554,458.3 L554,643.9 L613.3,643.9 L613.3,458.3" fill="none" stroke="#1a1a1a" stroke-width="1.8"/>
<path d="M563.4,513.2 L563.4,465.3 L603.8,465.3 L603.8,513.2" fill="none" stroke="#1a1a1a" stroke-width="1.6"/>
<line x1="554" y1="513.2" x2="613.3" y2="513.2" stroke="#1a1a1a" stroke-width="1.8"/>
<line x1="556" y1="495" x2="556" y2="513" stroke="#1a1a1a" stroke-width="1.9"/>
<line x1="611.3" y1="495" x2="611.3" y2="513" stroke="#1a1a1a" stroke-width="1.9"/>
<line x1="554" y1="515.5" x2="613.3" y2="523.2" stroke="#1a1a1a" stroke-width="1.7"/>
<line x1="554" y1="532.5" x2="613.3" y2="538.7" stroke="#1a1a1a" stroke-width="1.7"/>
<line x1="554" y1="548.9" x2="613.3" y2="555.7" stroke="#1a1a1a" stroke-width="1.7"/>
<line x1="554" y1="565.9" x2="613.3" y2="572.1" stroke="#1a1a1a" stroke-width="1.7"/>
<line x1="554" y1="582" x2="613.3" y2="588.8" stroke="#1a1a1a" stroke-width="1.7"/>
<line x1="554" y1="598.4" x2="613.3" y2="605.2" stroke="#1a1a1a" stroke-width="1.7"/>
<line x1="554" y1="615.1" x2="613.3" y2="621.6" stroke="#1a1a1a" stroke-width="1.7"/>
<line x1="554" y1="631.5" x2="613.3" y2="637.7" stroke="#1a1a1a" stroke-width="1.7"/>
<line x1="527.40" y1="411.00" x2="527.40" y2="460.00" stroke="#333" stroke-width="0.8" />
<line x1="638.80" y1="411.00" x2="638.80" y2="460.00" stroke="#333" stroke-width="0.8" />
<line x1="527.40" y1="417.60" x2="638.80" y2="417.60" stroke="#333" stroke-width="0.8" />
<polygon points="527.40,417.60 535.40,416.00 535.40,419.20" fill="#111"/>
<polygon points="638.80,417.60 630.80,419.20 630.80,416.00" fill="#111"/>
<text transform="translate(583.00,410.00) rotate(0) scale(1.0,1)" x="0" y="5.04" text-anchor="middle" font-size="14" fill="#111" stroke="#111" stroke-width="0.1" style="">&#216;34</text>
<line x1="555.50" y1="425.00" x2="555.50" y2="458.00" stroke="#333" stroke-width="0.8" />
<line x1="611.20" y1="425.00" x2="611.20" y2="458.00" stroke="#333" stroke-width="0.8" />
<line x1="555.50" y1="431.40" x2="611.20" y2="431.40" stroke="#333" stroke-width="0.8" />
<polygon points="555.50,431.40 563.50,429.80 563.50,433.00" fill="#111"/>
<polygon points="611.20,431.40 603.20,433.00 603.20,429.80" fill="#111"/>
<text transform="translate(583.50,424.80) rotate(0) scale(1.0,1)" x="0" y="5.04" text-anchor="middle" font-size="14" fill="#111" stroke="#111" stroke-width="0.1" style="">&#216;17</text>
<line x1="483.80" y1="458.10" x2="526.70" y2="458.10" stroke="#333" stroke-width="0.8" />
<line x1="503.00" y1="465.50" x2="526.70" y2="465.50" stroke="#333" stroke-width="0.8" />
<line x1="507.20" y1="440.00" x2="507.20" y2="458.10" stroke="#333" stroke-width="0.8" />
<line x1="507.20" y1="465.50" x2="507.20" y2="650.00" stroke="#333" stroke-width="0.8" />
<polygon points="507.20,458.10 505.60,450.10 508.80,450.10" fill="#111"/>
<polygon points="507.20,465.50 508.80,473.50 505.60,473.50" fill="#111"/>
<line x1="489.00" y1="458.10" x2="489.00" y2="650.00" stroke="#333" stroke-width="0.8" />
<polygon points="489.00,458.10 490.60,466.10 487.40,466.10" fill="#111"/>
<polygon points="489.00,650.00 487.40,642.00 490.60,642.00" fill="#111"/>
<polygon points="507.70,650.00 506.10,642.00 509.30,642.00" fill="#111"/>
<line x1="484.00" y1="650.00" x2="546.80" y2="650.00" stroke="#333" stroke-width="0.8" />
<text transform="translate(501.70,488.60) rotate(-90) scale(1.0,1)" x="0" y="5.04" text-anchor="middle" font-size="14" fill="#111" stroke="#111" stroke-width="0.1" style="">2</text>
<text transform="translate(482.00,554.50) rotate(-90) scale(1.0,1)" x="0" y="5.04" text-anchor="middle" font-size="14" fill="#111" stroke="#111" stroke-width="0.1" style="">58</text>
<text transform="translate(501.50,557.30) rotate(-90) scale(1.0,1)" x="0" y="5.04" text-anchor="middle" font-size="14" fill="#111" stroke="#111" stroke-width="0.1" style="">56</text>
<line x1="546.80" y1="650.00" x2="546.80" y2="705.00" stroke="#333" stroke-width="0.8" />
<line x1="620.10" y1="650.00" x2="620.10" y2="705.00" stroke="#333" stroke-width="0.8" />
<line x1="546.80" y1="700.50" x2="620.10" y2="700.50" stroke="#333" stroke-width="0.8" />
<polygon points="546.80,700.50 554.80,698.90 554.80,702.10" fill="#111"/>
<polygon points="620.10,700.50 612.10,702.10 612.10,698.90" fill="#111"/>
<text transform="translate(583.40,692.60) rotate(0) scale(1.0,1)" x="0" y="5.04" text-anchor="middle" font-size="14" fill="#111" stroke="#111" stroke-width="0.1" style="">&#216;22</text>
</svg></body></html>
